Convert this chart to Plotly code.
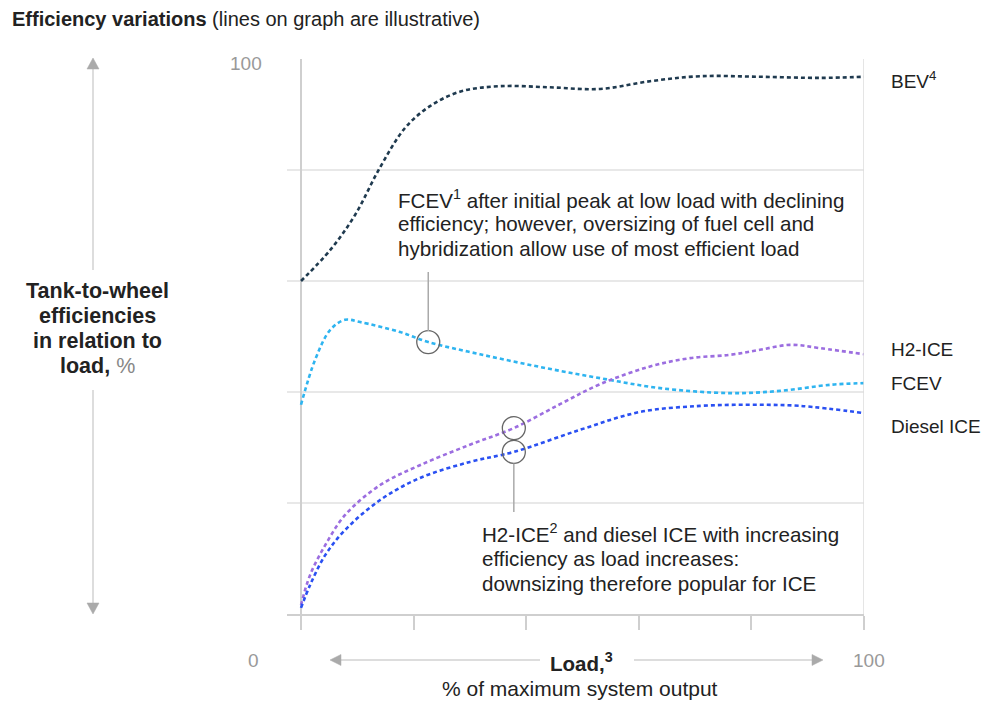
import plotly.graph_objects as go

# Load (% of maximum system output) and tank-to-wheel efficiency (%) per drivetrain
bev_load = [0, 5.2, 9.6, 14.0, 18.5, 22.9, 28.2, 35.3, 44.2, 53.1, 62.0, 70.9, 81.5, 92.2, 100]
bev_eff = [60.0, 65.6, 71.9, 80.4, 87.6, 91.5, 94.1, 95.1, 94.9, 94.6, 96.0, 96.9, 96.8, 96.6, 96.8]

fcev_load = [0, 2.5, 5.2, 7.8, 10.5, 17.6, 22.6, 31.8, 42.5, 53.1, 63.8, 76.2, 85.1, 94.0, 100]
fcev_eff = [37.7, 45.8, 51.2, 53.0, 52.6, 50.8, 49.0, 46.8, 44.5, 42.5, 40.7, 39.8, 40.2, 41.3, 41.6]

h2_load = [0, 1.6, 4.3, 7.8, 14.0, 21.1, 30.0, 37.8, 46.0, 53.1, 62.0, 69.1, 76.2, 81.5, 86.9, 92.2, 100]
h2_eff = [1.6, 7.0, 12.4, 17.8, 23.2, 26.8, 30.5, 33.5, 37.8, 41.4, 44.6, 46.1, 46.7, 47.6, 48.5, 47.9, 46.8]

diesel_load = [0, 1.6, 4.3, 7.8, 14.0, 21.1, 30.0, 37.8, 49.6, 60.2, 70.9, 79.8, 88.6, 100]
diesel_eff = [1.1, 5.2, 10.6, 15.1, 20.5, 24.5, 27.4, 29.2, 33.2, 36.4, 37.5, 37.7, 37.5, 36.2]

# Highlighted points on the curves (load, efficiency)
fcev_callout = (22.6, 49.0)
h2_callout = (37.8, 33.5)
diesel_callout = (37.8, 29.2)

x_ticks = [0, 20, 40, 60, 80, 100]
y_ticks = [0, 20, 40, 60, 80, 100]

series = [
    ("BEV", bev_load, bev_eff, "#1f3a4f"),
    ("FCEV", fcev_load, fcev_eff, "#2eb4f0"),
    ("H2-ICE", h2_load, h2_eff, "#9c6ee0"),
    ("Diesel ICE", diesel_load, diesel_eff, "#2a50f2"),
]

FONT = "Liberation Sans, Arial, sans-serif"
TXT = "#222222"
GREY = "#999999"
AXIS = "#cfcfcf"
GRID = "#e8e8e8"

# plot-area geometry in pixels, used to place decorations outside the axes
L, T, W, H = 287, 59, 577, 555
FIG_W, FIG_H = 983, 704


def px(x):
    return (x - L) / W


def py(y):
    return (T + H - y) / H


fig = go.Figure()

for name, xs, ys, color in series:
    fig.add_trace(go.Scatter(
        x=xs, y=ys, mode="lines", name=name,
        line=dict(color=color, width=2.6, dash="4px,3px", shape="spline", smoothing=1.0),
        hoverinfo="skip", showlegend=False,
    ))

# leader lines from the highlighted points to the notes
fig.add_shape(type="line", x0=fcev_callout[0], x1=fcev_callout[0],
              y0=fcev_callout[1] + 2.0, y1=61.6, line=dict(color="#aaaaaa", width=1.5))
fig.add_shape(type="line", x0=diesel_callout[0], x1=diesel_callout[0],
              y0=diesel_callout[1] - 2.1, y1=18.4, line=dict(color="#aaaaaa", width=1.5))

# right border of the plot
fig.add_shape(type="line", x0=100, x1=100, y0=0, y1=100, line=dict(color="#dddddd", width=1.5))

fig.add_trace(go.Scatter(
    x=[fcev_callout[0], h2_callout[0], diesel_callout[0]],
    y=[fcev_callout[1], h2_callout[1], diesel_callout[1]],
    mode="markers",
    marker=dict(symbol="circle-open", size=23, color="#666666", line=dict(width=1.3, color="#666666")),
    hoverinfo="skip", showlegend=False,
))

annotations = []


def note(x, y, text, size=20, color=TXT, xanchor="left", align="left"):
    annotations.append(dict(
        x=px(x), y=py(y), xref="paper", yref="paper", text=text, showarrow=False,
        xanchor=xanchor, yanchor="middle", align=align,
        font=dict(family=FONT, size=size, color=color),
    ))


def note_lines(x, y0, step, lines, **kw):
    for i, line in enumerate(lines):
        note(x, y0 + i * step, line, **kw)


# title
note(10, 19, "<b>Efficiency variations</b> (lines on graph are illustrative)", size=20)

# axis value labels
note(264, 63, "100", size=19, color=GREY, xanchor="right")
note(253, 660, "0", size=19, color=GREY, xanchor="center")
note(851, 660, "100", size=19, color=GREY)

# series labels at the right
note(889, 80, "BEV<sup>4</sup>", size=19)
note(889, 349, "H2-ICE", size=19)
note(889, 383, "FCEV", size=19)
note(889, 426, "Diesel ICE", size=19)

# explanatory notes
note_lines(396, 199, 25, [
    "FCEV<sup>1</sup> after initial peak at low load with declining",
    "efficiency; however, oversizing of fuel cell and",
    "hybridization allow use of most efficient load",
], size=20.6)
note_lines(480, 533, 25, [
    "H2-ICE<sup>2</sup> and diesel ICE with increasing",
    "efficiency as load increases:",
    "downsizing therefore popular for ICE",
], size=20.6)

# axis titles
note_lines(97, 291, 25, [
    "<b>Tank-to-wheel</b>",
    "<b>efficiencies</b>",
    "<b>in relation to</b>",
    "<b>load,</b> <span style='color:#888888'>%</span>",
], size=21.5, xanchor="center", align="center")
note(581, 662, "<b>Load,<sup>3</sup></b>", size=20.5, xanchor="center")
note(580, 688, "% of maximum system output", size=21, xanchor="center")

shapes_paper = []


def pline(x0, y0, x1, y1, color="#dddddd", width=2):
    shapes_paper.append(dict(type="line", xref="paper", yref="paper",
                             x0=px(x0), y0=py(y0), x1=px(x1), y1=py(y1),
                             line=dict(color=color, width=width)))


def ptri(points, color="#aaaaaa"):
    path = "M " + " L ".join(f"{px(a):.5f},{py(b):.5f}" for a, b in points) + " Z"
    shapes_paper.append(dict(type="path", xref="paper", yref="paper", path=path,
                             fillcolor=color, line=dict(color=color, width=0.5)))


# vertical double arrow beside the y title
pline(93, 68, 93, 270)
pline(93, 390, 93, 604)
ptri([(93, 58), (87, 69), (99, 69)])
ptri([(93, 614), (87, 603), (99, 603)])

# horizontal double arrow beside the x title
pline(340, 660, 540, 660)
pline(634, 660, 813, 660)
ptri([(330, 660), (341, 654.5), (341, 665.5)])
ptri([(823, 660), (812, 654.5), (812, 665.5)])

for s in shapes_paper:
    fig.add_shape(**s)

fig.update_layout(
    width=FIG_W, height=FIG_H,
    margin=dict(l=L, r=FIG_W - L - W, t=T, b=FIG_H - T - H),
    paper_bgcolor="white", plot_bgcolor="white",
    annotations=annotations,
    xaxis=dict(
        range=[-2.49, 100], tickvals=x_ticks, showticklabels=False,
        ticks="outside", ticklen=14, tickcolor=AXIS, tickwidth=1.5,
        showgrid=False, zeroline=True, zerolinecolor=AXIS, zerolinewidth=1.5,
        showline=True, linecolor=AXIS, linewidth=1.5, fixedrange=True,
    ),
    yaxis=dict(
        range=[0, 100], tickvals=y_ticks, showticklabels=False,
        showgrid=True, gridcolor=GRID, gridwidth=1.5,
        zeroline=False, showline=False, fixedrange=True,
    ),
)

fig.write_html("out.html")
